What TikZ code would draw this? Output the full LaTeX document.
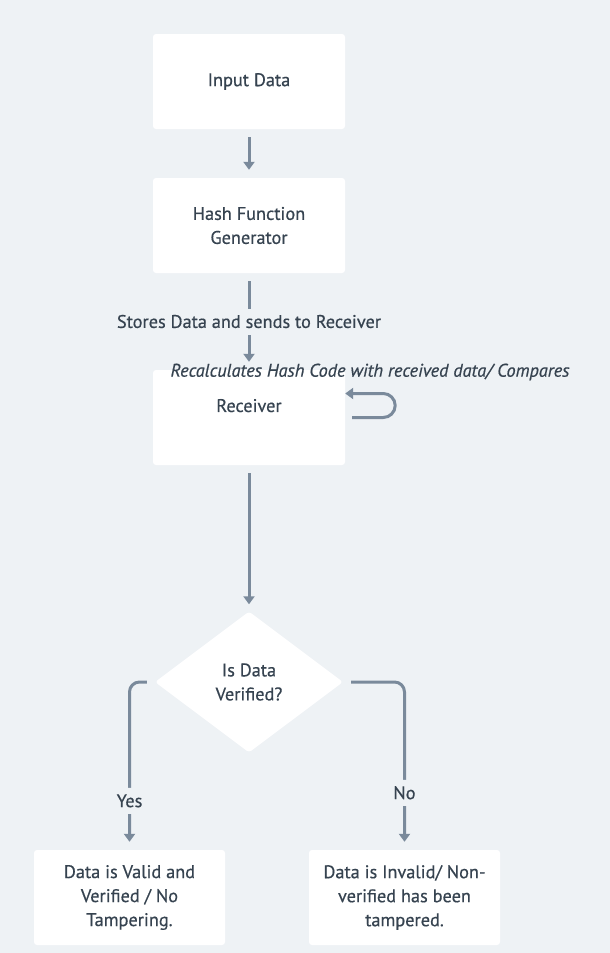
\documentclass[tikz,border=0pt]{standalone}
\usepackage{fontspec}
\setmainfont{PT Sans}[FakeBold=0.5]
\usetikzlibrary{shapes.geometric,arrows.meta,calc}
\definecolor{bg}{HTML}{EEF2F5}
\definecolor{ink}{HTML}{364350}
\definecolor{wirec}{HTML}{7A8A9B}
\begin{document}
\begin{tikzpicture}[x=1pt,y=1pt,
  txt/.style={text=ink, font=\fontsize{18.3}{24}\selectfont},
  box/.style={txt, fill=white, rounded corners=3pt, minimum width=192pt, minimum height=95pt, inner sep=0pt, align=center},
  decision/.style={txt, diamond, fill=white, rounded corners=3pt, minimum width=188pt, minimum height=141pt, inner sep=0pt, align=center},
  wire/.style={draw=wirec, line width=3pt, -{Triangle[length=8pt,width=11pt]}, shorten <=8pt, shorten >=8pt},
  lbl/.style={txt, fill=bg, inner sep=2pt, minimum height=26pt}]
\fill[bg] (0,0) rectangle (610,-953);
\useasboundingbox (0,0) rectangle (610,-953);

\node[box] (inp) at (249,-81.5) {Input Data};
\node[box] (hash) at (249,-225.5) {Hash Function\\Generator};
\node[box] (rec) at (249,-417.5) {Receiver\\~};
\node[decision] (dec) at (249,-682) {Is Data\\Verified?};
\node[box, minimum width=191pt] (yes) at (129.5,-897.5) {Data is Valid and\\Verified / No\\Tampering.};
\node[box, minimum width=191pt] (no) at (404.5,-897.5) {Data is Invalid/ Non-\\verified has been\\tampered.};

\draw[wire] (inp) -- (hash);
\draw[wire] (hash) -- node[lbl] (storelbl) {Stores Data and sends to Receiver} (rec);
\draw[wire, shorten >=7pt] (rec) -- (dec);
\draw[wire, rounded corners=10pt] (dec.west) -| node[lbl, pos=0.854] (yeslbl) {Yes} (yes.north);
\draw[wire, rounded corners=10pt] (dec.east) -| node[lbl, pos=0.83] (nolbl) {No} (no.north);

\draw[draw=wirec, line width=3pt, -{Triangle[length=8pt,width=11pt]}]
  ($(rec.east)+(7,0)$) -- ($(rec.east)+(38,0)$)
  arc[start angle=-90, end angle=90, radius=12] -- ($(rec.east)+(0,24)$);
\node[txt, font=\fontsize{18.3}{24}\selectfont\itshape] (loopl) at (370,-372) {Recalculates Hash Code with received data/ Compares};
\end{tikzpicture}
\end{document}
